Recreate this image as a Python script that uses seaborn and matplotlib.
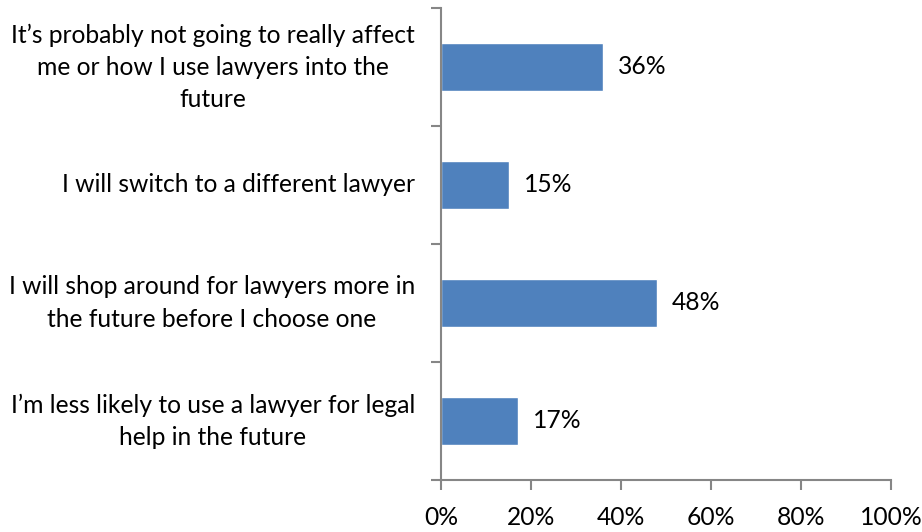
import matplotlib
matplotlib.use("Agg")
import matplotlib.pyplot as plt
import matplotlib.transforms as mtransforms
import seaborn as sns
import pandas as pd

categories = [
    "It\u2019s probably not going to really affect\nme or how I use lawyers into the\nfuture",
    "I will switch to a different lawyer",
    "I will shop around for lawyers more in\nthe future before I choose one",
    "I\u2019m less likely to use a lawyer for legal\nhelp in the future",
]
values = [36, 15, 48, 17]
x_ticks = [0, 20, 40, 60, 80, 100]
x_tick_labels = ["0%", "20%", "40%", "60%", "80%", "100%"]

df = pd.DataFrame({"category": categories, "value": values})

sns.set_theme(style="white")
plt.rcParams["font.family"] = ["Lato", "DejaVu Sans"]

fig = plt.figure(figsize=(9.22, 5.32), dpi=100)
W, H = 922, 532
ax = fig.add_axes([441 / W, 1 - 480 / H, 450 / W, 472 / H])

sns.barplot(data=df, x="value", y="category", orient="h", color="#4F81BD",
            saturation=1, width=0.4, ax=ax)

axis_color = "#868686"
fs = 17.7
ax.set_xlim(0, 100)
ax.set_ylim(3.5, -0.5)
ax.set_xticks(x_ticks)
ax.set_xticklabels(x_tick_labels, fontsize=fs, color="black")
ax.set_yticks([-0.5, 0.5, 1.5, 2.5, 3.5])
ax.set_yticklabels([])
ax.tick_params(axis="y", length=7, width=1.5, color=axis_color,
               direction="out", left=True)
ax.tick_params(axis="x", length=7, width=1.5, color=axis_color,
               direction="out", bottom=True, pad=12)
ax.set_xlabel("")
ax.set_ylabel("")

for side in ["top", "right"]:
    ax.spines[side].set_visible(False)
for side in ["left", "bottom"]:
    ax.spines[side].set_color(axis_color)
    ax.spines[side].set_linewidth(1.5)

# category labels: right-aligned block, centred lines
trans = mtransforms.blended_transform_factory(ax.transAxes, ax.transData)
for i, cat in enumerate(categories):
    ax.annotate(cat, xy=(0, i), xycoords=trans, xytext=(-26, 0),
                textcoords="offset pixels", ha="right", va="center",
                multialignment="center", fontsize=fs, color="black",
                linespacing=1.48)

for i, v in enumerate(values):
    ax.annotate(f"{v}%", xy=(v, i), xytext=(15, 0), textcoords="offset pixels",
                va="center", ha="left", fontsize=fs, color="black")

fig.savefig("out.png", dpi=100)
